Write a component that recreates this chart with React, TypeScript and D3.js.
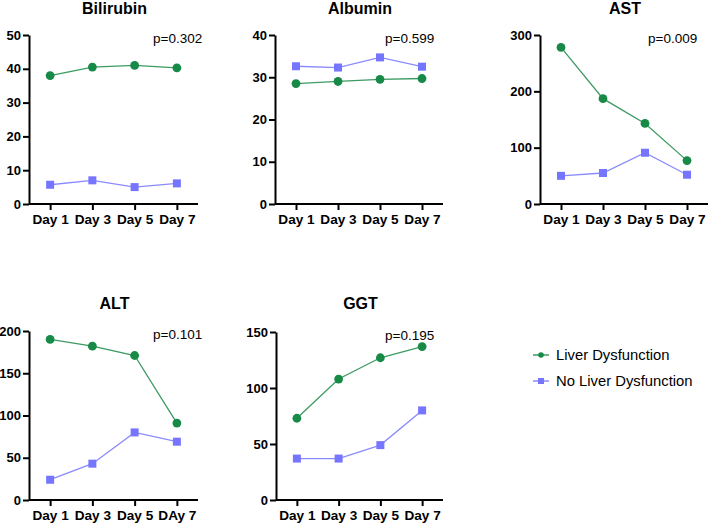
import React, { useEffect, useRef } from "react";
import * as d3 from "d3";

const days = ["Day 1", "Day 3", "Day 5", "Day 7"];
const altDays = ["Day 1", "Day 3", "Day 5", "DAy 7"];

const panelTitles = ["Bilirubin", "Albumin", "AST", "ALT", "GGT"];
const pValues = ["p=0.302", "p=0.599", "p=0.009", "p=0.101", "p=0.195"];
const yMax = [50, 40, 300, 200, 150];
const yStep = [10, 10, 100, 50, 50];

const liverBilirubin = [38, 40.5, 41, 40.3];
const noLiverBilirubin = [5.7, 7, 5, 6.1];
const liverAlbumin = [28.5, 29, 29.5, 29.7];
const noLiverAlbumin = [32.6, 32.3, 34.7, 32.5];
const liverAST = [278, 187, 143, 77];
const noLiverAST = [50, 55, 91, 52];
const liverALT = [190, 182, 171, 91];
const noLiverALT = [24, 43, 80, 69];
const liverGGT = [73, 108, 127, 137];
const noLiverGGT = [37, 37, 49, 80];

const seriesNames = ["Liver Dysfunction", "No Liver Dysfunction"];

const GREEN = "#178a47";
const GREEN_LINE = "#3c9a62";
const BLUE = "#7575ff";
const BLUE_LINE = "#8a8aff";
const FONT = "Liberation Sans, Arial, sans-serif";

function App() {
  const ref = useRef<SVGSVGElement>(null);

  useEffect(() => {
    document.body.style.margin = "0";
    const svg = d3.select(ref.current);
    svg.selectAll("*").remove();

    const liver = [liverBilirubin, liverAlbumin, liverAST, liverALT, liverGGT];
    const noLiver = [noLiverBilirubin, noLiverAlbumin, noLiverAST, noLiverALT, noLiverGGT];
    const labels = [days, days, days, altDays, days];

    // layout of each panel: axis x, right end, top, bottom, p-value x, title y
    const boxes = [
      { x0: 29, x1: 198, y0: 35, y1: 204, px: 153, ty: 14 },
      { x0: 275, x1: 443, y0: 35, y1: 204, px: 385, ty: 14 },
      { x0: 540, x1: 708, y0: 35, y1: 204, px: 648, ty: 14 },
      { x0: 29, x1: 198, y0: 331, y1: 500, px: 153, ty: 309 },
      { x0: 276, x1: 443, y0: 332, y1: 500, px: 385, ty: 309 },
    ];

    boxes.forEach((b, i) => {
      const g = svg.append("g");
      const x = d3.scalePoint().domain(labels[i]).range([b.x0, b.x1]).padding(0.5);
      const y = d3.scaleLinear().domain([0, yMax[i]]).range([b.y1, b.y0]);

      const yAxis = g
        .append("g")
        .attr("transform", `translate(${b.x0},0)`)
        .call(
          d3
            .axisLeft(y)
            .tickValues(d3.range(0, yMax[i] + 0.001, yStep[i]))
            .tickSize(6)
            .tickPadding(2)
            .tickSizeOuter(0)
        );
      const xAxis = g
        .append("g")
        .attr("transform", `translate(0,${b.y1})`)
        .call(d3.axisBottom(x).tickSize(6).tickPadding(4).tickSizeOuter(0));

      [yAxis, xAxis].forEach((ax) => {
        ax.select(".domain").attr("stroke", "#000").attr("stroke-width", 2);
        ax.selectAll(".tick line").attr("stroke", "#000").attr("stroke-width", 2);
        ax.selectAll(".tick text")
          .attr("fill", "#000")
          .attr("font-family", FONT)
          .attr("font-weight", "bold")
          .attr("font-size", "13px");
      });
      xAxis.selectAll(".tick text").attr("font-size", "13.6px");
      xAxis.select(".domain").attr("d", `M${b.x0},0H${b.x1}`);

      g.append("text")
        .attr("x", (b.x0 + b.x1) / 2 + 1)
        .attr("y", b.ty)
        .attr("text-anchor", "middle")
        .attr("font-family", FONT)
        .attr("font-weight", "bold")
        .attr("font-size", "16px")
        .text(panelTitles[i]);

      g.append("text")
        .attr("x", b.px)
        .attr("y", b.y0 + 8)
        .attr("font-family", FONT)
        .attr("font-size", "13.5px")
        .text(pValues[i]);

      const line = d3
        .line<number>()
        .x((d, j) => x(labels[i][j]) as number)
        .y((d) => y(d));

      g.append("path")
        .datum(noLiver[i])
        .attr("fill", "none")
        .attr("stroke", BLUE_LINE)
        .attr("stroke-width", 1.3)
        .attr("d", line);
      g.selectAll(".sq")
        .data(noLiver[i])
        .enter()
        .append("rect")
        .attr("x", (d, j) => (x(labels[i][j]) as number) - 4)
        .attr("y", (d) => y(d) - 4)
        .attr("width", 8)
        .attr("height", 8)
        .attr("fill", BLUE);

      g.append("path")
        .datum(liver[i])
        .attr("fill", "none")
        .attr("stroke", GREEN_LINE)
        .attr("stroke-width", 1.3)
        .attr("d", line);
      g.selectAll(".dot")
        .data(liver[i])
        .enter()
        .append("circle")
        .attr("cx", (d, j) => x(labels[i][j]) as number)
        .attr("cy", (d) => y(d))
        .attr("r", 4.4)
        .attr("fill", GREEN);
    });

    // legend
    const legend = svg.append("g").attr("transform", "translate(533,355)");
    seriesNames.forEach((name, i) => {
      const row = legend.append("g").attr("transform", `translate(0,${i * 26})`);
      row.append("line")
        .attr("x1", 0)
        .attr("x2", 16)
        .attr("stroke", i === 0 ? GREEN_LINE : BLUE_LINE)
        .attr("stroke-width", 1.5);
      if (i === 0) {
        row.append("circle").attr("cx", 8).attr("r", 2.8).attr("fill", GREEN);
      } else {
        row.append("rect").attr("x", 5).attr("y", -3).attr("width", 6).attr("height", 6).attr("fill", BLUE);
      }
      row.append("text")
        .attr("x", 23)
        .attr("y", 5)
        .attr("font-family", FONT)
        .attr("font-size", "14.8px")
        .text(name);
    });
  }, []);

  return <svg ref={ref} width={708} height={523} style={{ display: "block" }} />;
}

export default App;
